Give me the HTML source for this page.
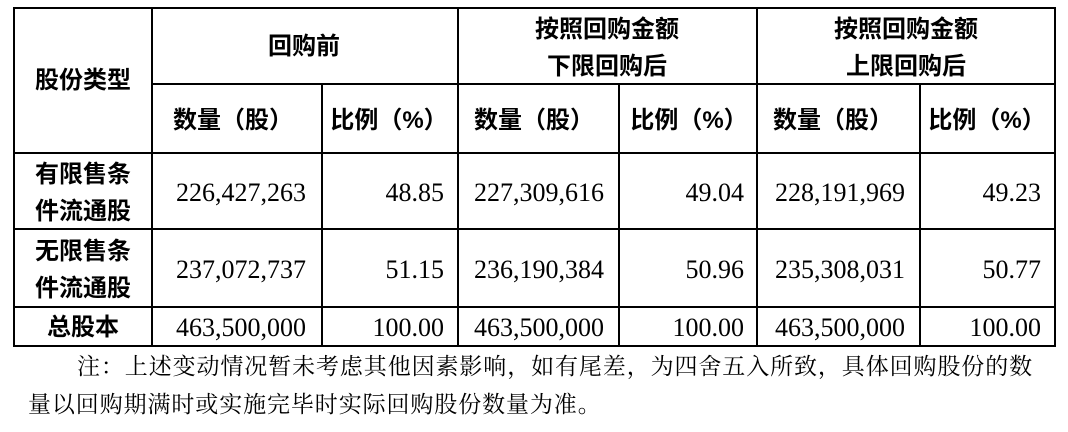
<!DOCTYPE html>
<html><head><meta charset="utf-8"><style>
body{margin:0;width:1068px;height:432px;background:#fff;position:relative;overflow:hidden;font-family:"Liberation Serif","Noto Serif CJK SC",serif;color:#000}
.h{position:absolute;background:#000}
.t{position:absolute;white-space:nowrap;line-height:1}
.b{font-family:"Liberation Sans","Noto Sans CJK SC",sans-serif;font-weight:bold;font-size:24px;transform:translate(-50%,-50%)}
.n{font-size:26px;transform:translate(-50%,-50%)}
.r{font-size:26px;transform:translate(-100%,-50%)}
.note{font-family:"Liberation Serif","Noto Serif CJK SC",serif;font-size:23px;letter-spacing:0.9px}
</style></head><body>
<div class="h" style="left:13px;top:7px;width:1043px;height:2px"></div>
<div class="h" style="left:152px;top:83px;width:903px;height:2px"></div>
<div class="h" style="left:13px;top:152px;width:1043px;height:2px"></div>
<div class="h" style="left:13px;top:228px;width:1043px;height:2px"></div>
<div class="h" style="left:13px;top:306px;width:1043px;height:2px"></div>
<div class="h" style="left:13px;top:345px;width:1043px;height:2px"></div>
<div class="h" style="left:13px;top:7px;width:2px;height:340px"></div>
<div class="h" style="left:151px;top:7px;width:2px;height:340px"></div>
<div class="h" style="left:321px;top:83px;width:2px;height:264px"></div>
<div class="h" style="left:457px;top:7px;width:2px;height:340px"></div>
<div class="h" style="left:618px;top:83px;width:2px;height:264px"></div>
<div class="h" style="left:756px;top:7px;width:2px;height:340px"></div>
<div class="h" style="left:919px;top:83px;width:2px;height:264px"></div>
<div class="h" style="left:1054px;top:7px;width:2px;height:340px"></div>

<div class="t b" style="left:83px;top:81px">股份类型</div>
<div class="t b" style="left:304px;top:47px">回购前</div>
<div class="t b" style="left:607px;top:30px">按照回购金额</div>
<div class="t b" style="left:607px;top:67px">下限回购后</div>
<div class="t b" style="left:906px;top:30px">按照回购金额</div>
<div class="t b" style="left:906px;top:67px">上限回购后</div>
<div class="t b" style="left:233px;top:121px">数量（股）</div>
<div class="t b" style="left:389px;top:121px">比例（%）</div>
<div class="t b" style="left:534px;top:121px">数量（股）</div>
<div class="t b" style="left:689px;top:121px">比例（%）</div>
<div class="t b" style="left:833px;top:121px">数量（股）</div>
<div class="t b" style="left:987px;top:121px">比例（%）</div>

<div class="t b" style="left:83px;top:175px">有限售条</div>
<div class="t b" style="left:83px;top:212px">件流通股</div>
<div class="t b" style="left:83px;top:252px">无限售条</div>
<div class="t b" style="left:83px;top:289px">件流通股</div>
<div class="t b" style="left:83px;top:328px">总股本</div>

<div class="t n" style="left:241px;top:193px">226,427,263</div>
<div class="t r" style="left:444px;top:193px">48.85</div>
<div class="t n" style="left:539px;top:193px">227,309,616</div>
<div class="t r" style="left:744px;top:193px">49.04</div>
<div class="t n" style="left:840px;top:193px">228,191,969</div>
<div class="t r" style="left:1041px;top:193px">49.23</div>

<div class="t n" style="left:241px;top:270px">237,072,737</div>
<div class="t r" style="left:444px;top:270px">51.15</div>
<div class="t n" style="left:539px;top:270px">236,190,384</div>
<div class="t r" style="left:744px;top:270px">50.96</div>
<div class="t n" style="left:840px;top:270px">235,308,031</div>
<div class="t r" style="left:1041px;top:270px">50.77</div>

<div class="t n" style="left:241px;top:328px">463,500,000</div>
<div class="t r" style="left:444px;top:328px">100.00</div>
<div class="t n" style="left:539px;top:328px">463,500,000</div>
<div class="t r" style="left:744px;top:328px">100.00</div>
<div class="t n" style="left:840px;top:328px">463,500,000</div>
<div class="t r" style="left:1041px;top:328px">100.00</div>

<div class="t note" style="left:77px;top:355px">注：上述变动情况暂未考虑其他因素影响，如有尾差，为四舍五入所致，具体回购股份的数</div>
<div class="t note" style="left:28px;top:393px">量以回购期满时或实施完毕时实际回购股份数量为准。</div>
</body></html>
